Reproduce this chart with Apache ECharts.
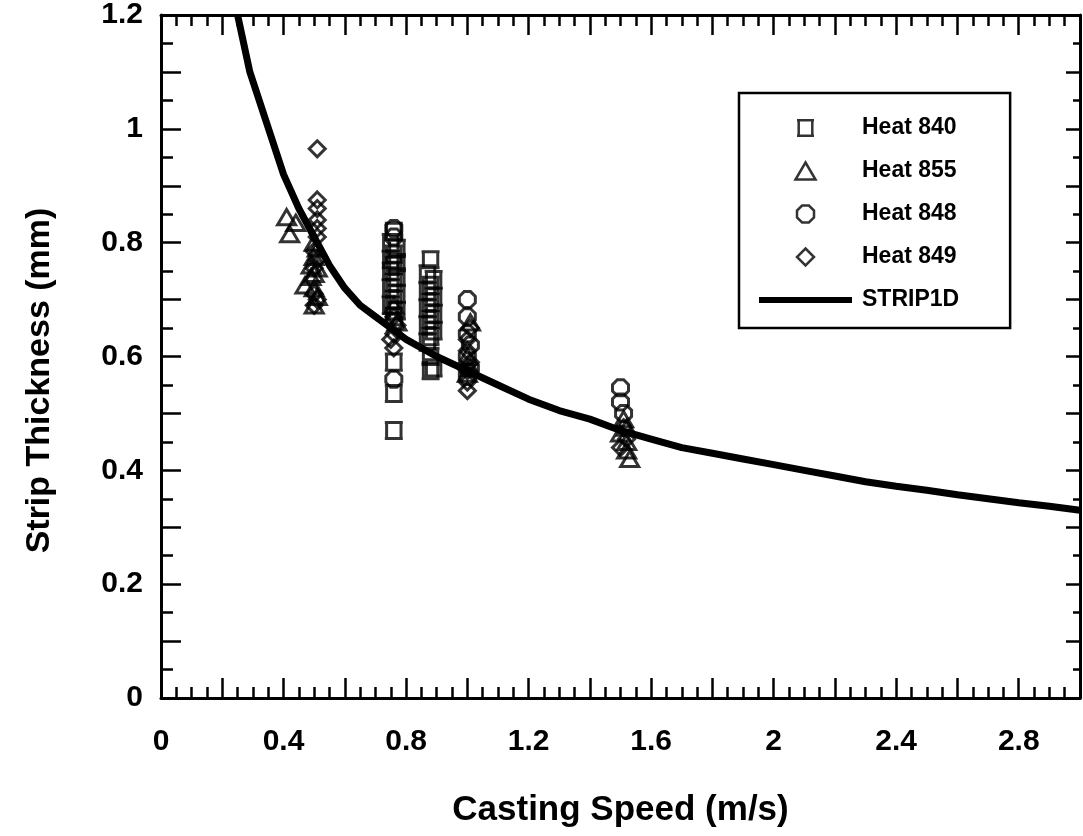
<!DOCTYPE html>
<html><head><meta charset="utf-8">
<script src="https://cdn.jsdelivr.net/npm/echarts@6/dist/echarts.min.js"></script>
<style>html,body{margin:0;padding:0;background:#fff}#c{width:1083px;height:836px}</style>
</head><body><div id="c"></div>
<script>
// ---- data ----
const heat840X = [0.76,0.75,0.77,0.76,0.75,0.77,0.76,0.75,0.77,0.76,0.75,0.77,0.76,0.75,0.77,0.76,0.76,0.76,0.76,
                  0.88,0.87,0.89,0.88,0.87,0.89,0.88,0.87,0.89,0.88,0.87,0.89,0.88,0.87,0.88,0.89,0.88];
const heat840Y = [0.82,0.80,0.79,0.78,0.77,0.765,0.76,0.75,0.74,0.73,0.72,0.71,0.70,0.69,0.68,0.67,0.59,0.535,0.47,
                  0.77,0.745,0.735,0.725,0.715,0.705,0.695,0.685,0.675,0.665,0.655,0.645,0.635,0.625,0.60,0.58,0.575];
const heat855X = [0.41,0.44,0.42,0.50,0.51,0.50,0.49,0.51,0.50,0.49,0.47,0.50,0.51,0.50,0.76,0.77,
                  1.01,1.00,1.01,1.00,1.51,1.52,1.50,1.52,1.52,1.53];
const heat855Y = [0.845,0.835,0.815,0.80,0.79,0.775,0.76,0.755,0.745,0.74,0.725,0.72,0.705,0.69,0.69,0.66,
                  0.66,0.60,0.58,0.57,0.49,0.475,0.465,0.45,0.435,0.42];
const heat848X = [0.76,0.76,0.76,0.76,1.00,1.00,1.00,1.01,1.00,1.01,1.00,1.50,1.50,1.51];
const heat848Y = [0.825,0.81,0.66,0.56,0.70,0.67,0.64,0.62,0.60,0.58,0.565,0.545,0.52,0.50];
const heat849X = [0.51,0.51,0.51,0.51,0.51,0.51,0.50,0.51,0.50,0.50,0.51,0.50,
                  0.76,0.77,0.76,0.75,0.76,1.01,1.00,1.00,1.01,1.00,1.00,1.00,1.51,1.52,1.50];
const heat849Y = [0.965,0.875,0.86,0.84,0.825,0.81,0.785,0.77,0.755,0.71,0.70,0.69,
                  0.67,0.655,0.64,0.63,0.615,0.65,0.63,0.61,0.59,0.575,0.555,0.54,0.475,0.455,0.44];
const stripX = [0.25,0.27,0.29,0.345,0.40,0.45,0.50,0.55,0.60,0.65,0.70,0.75,0.80,0.90,1.00,1.10,1.20,1.30,1.40,1.50,
                1.60,1.70,1.80,1.90,2.00,2.10,2.20,2.30,2.40,2.50,2.60,2.70,2.80,2.90,3.00];
const stripY = [1.20,1.15,1.10,1.01,0.92,0.86,0.81,0.76,0.72,0.69,0.67,0.65,0.63,0.60,0.575,0.55,0.525,0.505,0.49,0.47,
                0.455,0.44,0.43,0.42,0.41,0.40,0.39,0.38,0.372,0.365,0.357,0.35,0.343,0.337,0.33];
const seriesNames = ['Heat 840','Heat 855','Heat 848','Heat 849','STRIP1D'];
const xTickLabels = ['0','0.4','0.8','1.2','1.6','2','2.4','2.8'];
const yTickLabels = ['0','0.2','0.4','0.6','0.8','1','1.2'];
const xTitle = 'Casting Speed (m/s)';
const yTitle = 'Strip Thickness (mm)';

const zip = (a,b) => a.map((v,i)=>[v,b[i]]);
const FONT = '"Liberation Sans", Arial, sans-serif';
const squareSym = 'path://M0,1 L20,1 M0,19 L20,19 M2,0 L2,20 M18,0 L18,20';
const triSym = 'path://M10,0 L20,17 L0,17 Z';
const octSym = 'path://M6,0 L14,0 L20,6 L20,14 L14,20 L6,20 L0,14 L0,6 Z';
const diaSym = 'path://M10,0 L20,10 L10,20 L0,10 Z';
const lineSym = 'path://M0,0 L93,0 L93,6 L0,6 Z';

function xFmt(v){ const k=Math.round(v*10); if(k%4!==0) return ''; const s=String(Math.round(v*10)/10); return xTickLabels.includes(s)?s:''; }
function yFmt(v){ const k=Math.round(v*10); if(k%2!==0) return ''; const s=String(Math.round(v*10)/10); return yTickLabels.includes(s)?s:''; }

function axisBase(){
  return {
    type:'value', min:0,
    axisLine:{show:true,onZero:false,lineStyle:{color:'#000',width:3}},
    axisTick:{show:true,inside:true,length:20,lineStyle:{color:'#000',width:2.5}},
    minorTick:{show:true,length:12,lineStyle:{color:'#000',width:2.5}},
    splitLine:{show:false}, minorSplitLine:{show:false}
  };
}
const xMain = Object.assign(axisBase(), {max:3, interval:0.2, position:'bottom',
  minorTick:{show:true,splitNumber:4,length:11,lineStyle:{color:'#000',width:2.5}},
  axisLabel:{formatter:xFmt,fontSize:30,fontWeight:'bold',fontFamily:FONT,color:'#000',margin:29,showMaxLabel:true},
  name:xTitle,nameLocation:'middle',nameGap:95,nameTextStyle:{fontSize:35,fontWeight:'bold',fontFamily:FONT,color:'#000'}});
const xTop = Object.assign(axisBase(), {max:3, interval:0.2, position:'top',
  minorTick:{show:true,splitNumber:4,length:11,lineStyle:{color:'#000',width:2.5}},
  axisLabel:{show:false}});
const yMain = Object.assign(axisBase(), {max:1.2, interval:0.1, position:'left',
  minorTick:{show:true,splitNumber:2,length:12,lineStyle:{color:'#000',width:2.5}},
  axisLabel:{formatter:yFmt,fontSize:30,fontWeight:'bold',fontFamily:FONT,color:'#000',margin:18},
  name:yTitle,nameLocation:'middle',nameGap:104,nameRotate:90,
  nameTextStyle:{fontSize:34,fontWeight:'bold',fontFamily:FONT,color:'#000',padding:[0,48,0,0]}});
const yRight = Object.assign(axisBase(), {max:1.2, interval:0.1, position:'right',
  axisTick:{show:true,inside:true,length:14,lineStyle:{color:'#000',width:2.5}},
  minorTick:{show:true,splitNumber:2,length:7,lineStyle:{color:'#000',width:2.5}},
  axisLabel:{show:false}});

const markerStyle = {color:'rgba(0,0,0,0)',borderColor:'#000',borderWidth:3};
function sc(name, xs, ys, sym, size){
  return {type:'scatter', name, data:zip(xs,ys), symbol:sym, symbolSize:size, symbolKeepAspect:true,
          itemStyle:markerStyle, xAxisIndex:0, yAxisIndex:0, z:3, emphasis:{disabled:true}};
}
const legendIcons = [squareSym,triSym,octSym,diaSym,lineSym];

const chart = echarts.init(document.getElementById('c'), null, {renderer:'canvas'});
chart.setOption({
  animation:false,
  backgroundColor:'#fff',
  grid:{left:161, right:0, top:14, bottom:138, containLabel:false},
  xAxis:[xMain, xTop],
  yAxis:[yMain, yRight],
  legend:{
    orient:'vertical', left:739, top:93,
    padding:[22,51,15,20], itemGap:17, itemWidth:93, itemHeight:17,
    symbolKeepAspect:true,
    borderColor:'#000', borderWidth:2.5, borderRadius:0, backgroundColor:'#fff',
    textStyle:{fontSize:23,fontWeight:'bold',fontFamily:FONT,color:'#000',lineHeight:26,padding:[0,0,0,5]},
    data:seriesNames.map((n,i)=>({
      name:n, icon:legendIcons[i],
      itemStyle: i<4 ? {color:'rgba(0,0,0,0)',borderColor:'#000',borderWidth:2.5}
                     : {color:'#000',borderColor:'#000',borderWidth:0}
    }))
  },
  series:[
    sc(seriesNames[0], heat840X, heat840Y, squareSym, 18),
    sc(seriesNames[1], heat855X, heat855Y, triSym, 18),
    sc(seriesNames[2], heat848X, heat848Y, octSym, 16),
    sc(seriesNames[3], heat849X, heat849Y, diaSym, 16),
    {type:'line', name:seriesNames[4], data:zip(stripX,stripY), showSymbol:false, symbol:'none',
     lineStyle:{color:'#000',width:7}, itemStyle:{color:'#000'}, z:4, emphasis:{disabled:true}}
  ]
});
</script></body></html>
